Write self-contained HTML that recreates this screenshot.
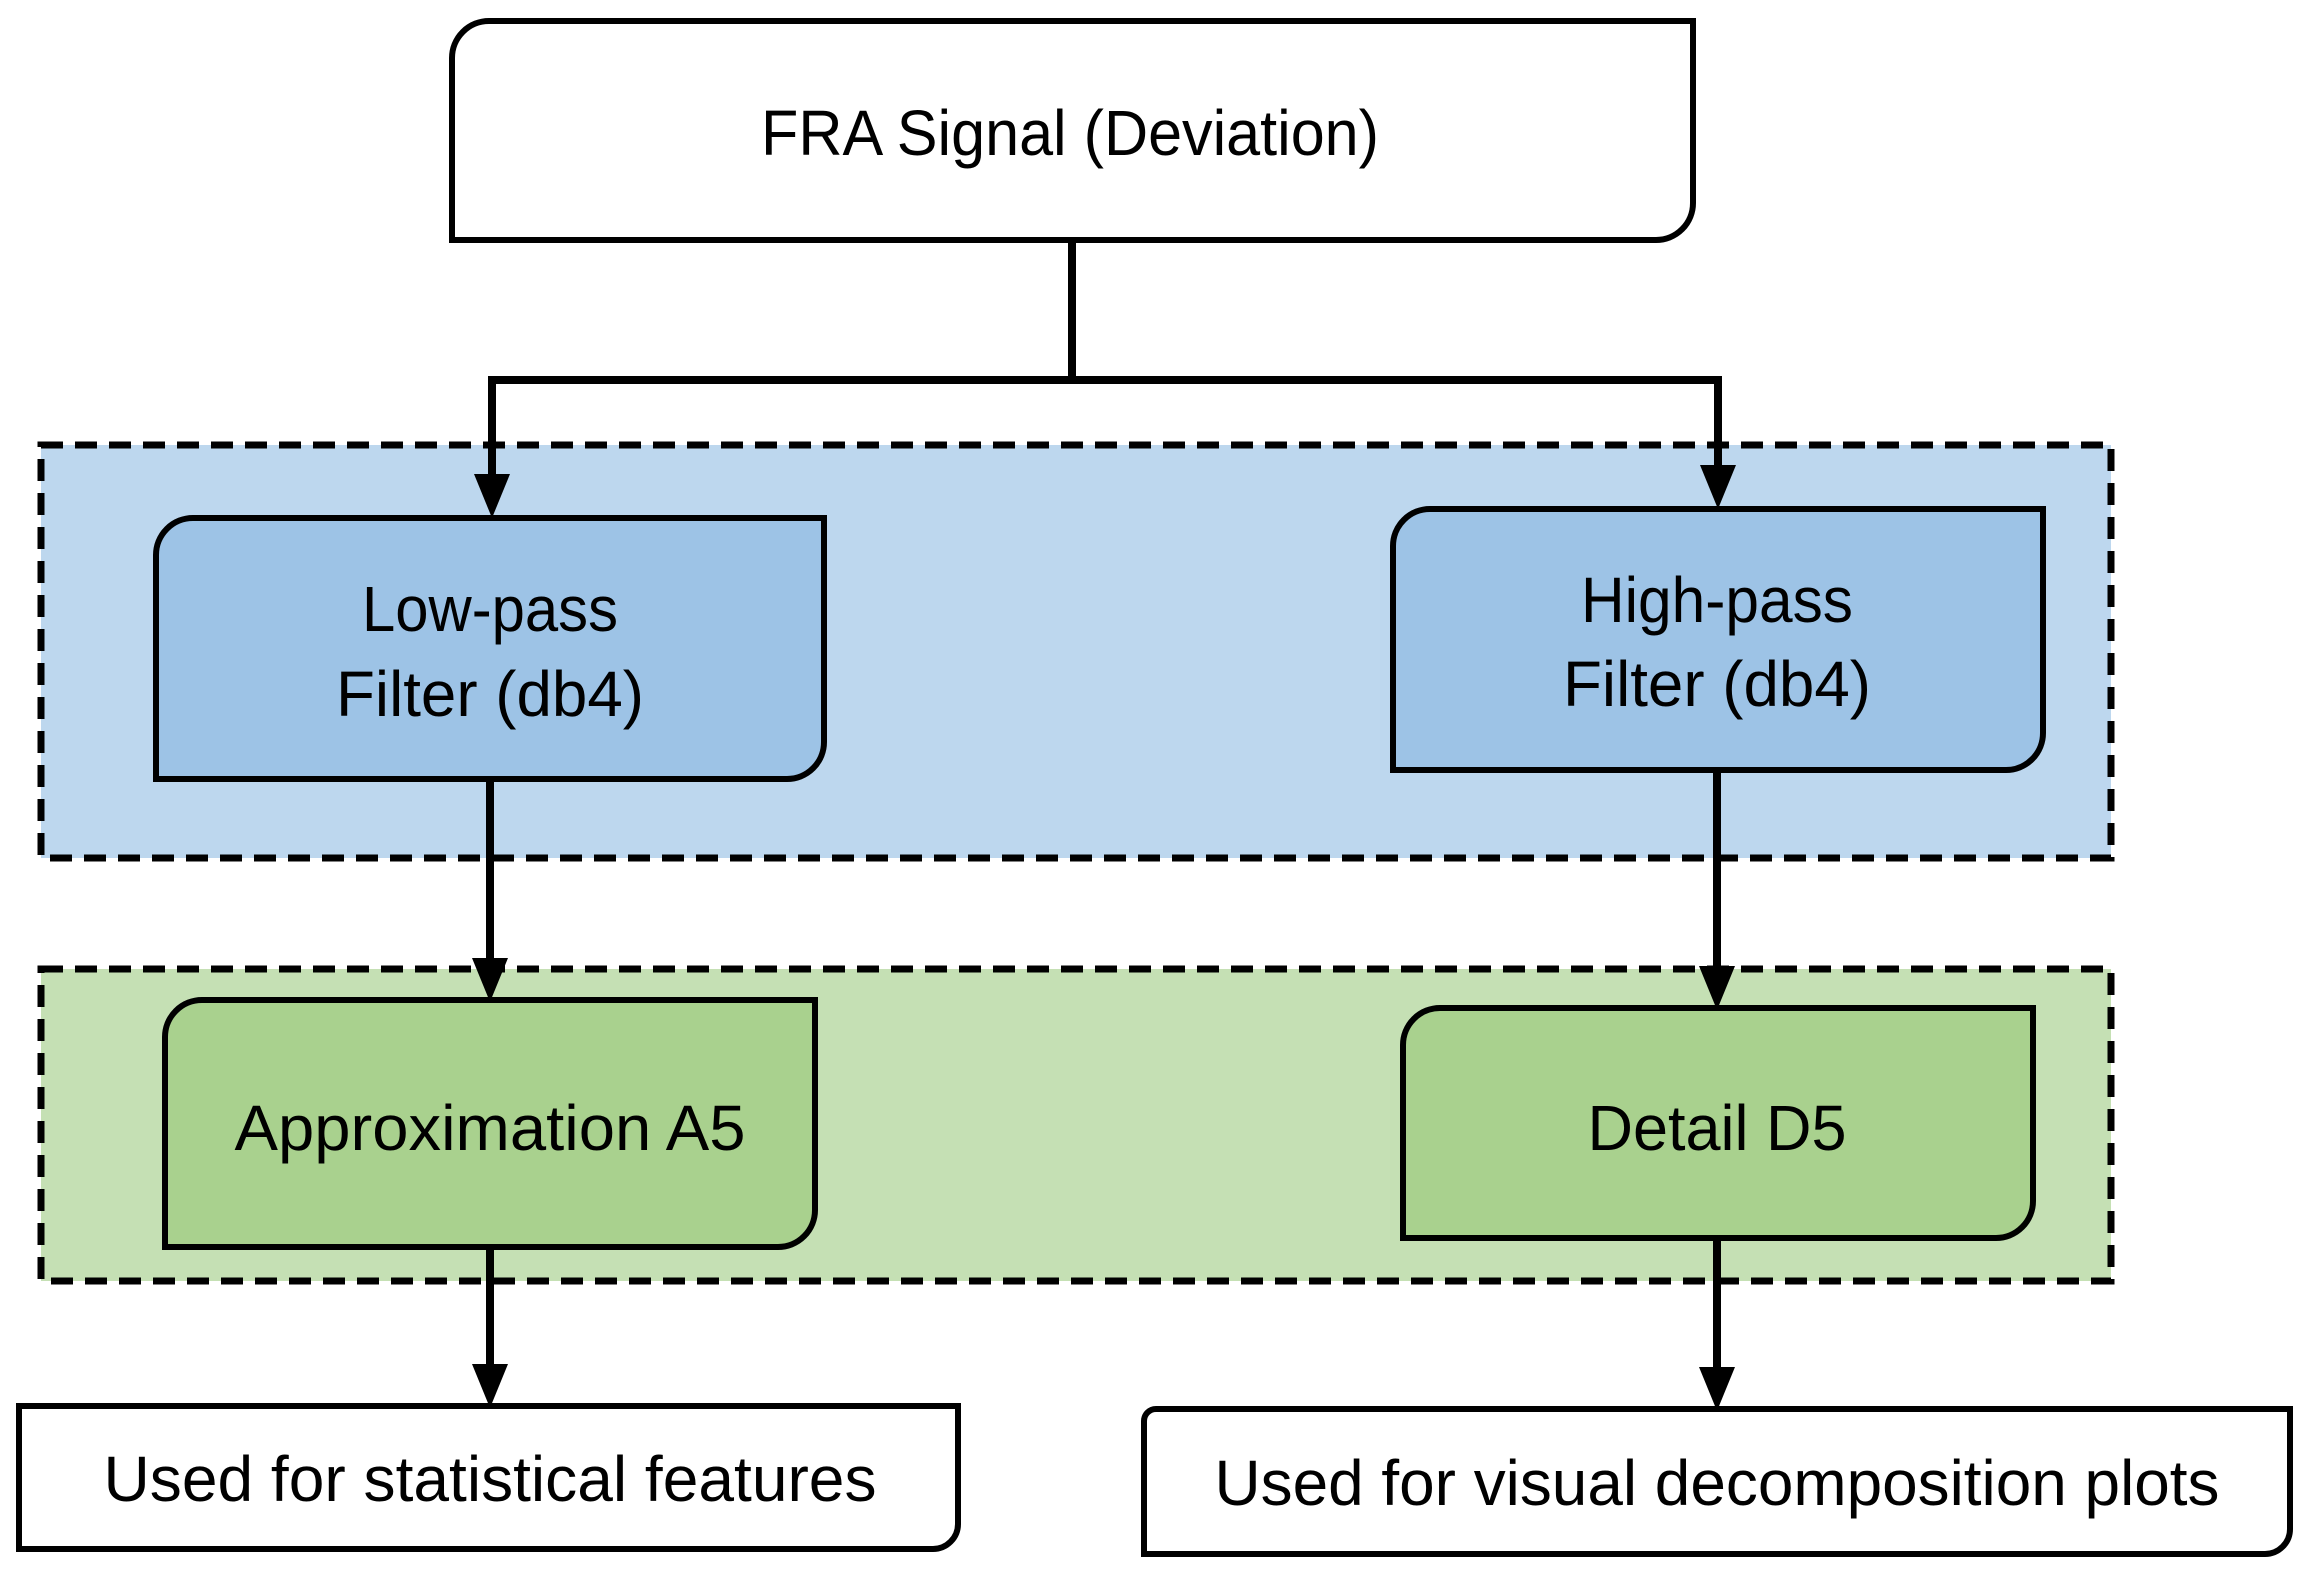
<!DOCTYPE html>
<html><head><meta charset="utf-8"><style>html,body{margin:0;padding:0;background:#fff}svg{display:block}</style></head>
<body>
<svg width="2308" height="1578" viewBox="0 0 2308 1578" xmlns="http://www.w3.org/2000/svg" font-family="Liberation Sans, sans-serif" font-size="64">
<!-- regions -->
<rect x="41" y="445" width="2070" height="413" fill="#bdd7ee" stroke="#000" stroke-width="7" stroke-dasharray="22 12"/>
<rect x="41" y="969" width="2070" height="312" fill="#c5e0b4" stroke="#000" stroke-width="7" stroke-dasharray="22 12"/>
<!-- connectors -->
<g stroke="#000" stroke-width="8" fill="none">
<polyline points="1072,240 1072,380"/>
<polyline points="492,480 492,380 1718,380 1718,471"/>
<line x1="490" y1="779" x2="490" y2="962"/>
<line x1="1717" y1="770" x2="1717" y2="970"/>
<line x1="490" y1="1247" x2="490" y2="1368"/>
<line x1="1717" y1="1238" x2="1717" y2="1370"/>
</g>
<g fill="#000">
<polygon points="474,474 510,474 492,518"/>
<polygon points="1700,465 1736,465 1718,509"/>
<polygon points="472,958 508,958 490,1002"/>
<polygon points="1699,966 1735,966 1717,1010"/>
<polygon points="472,1364 508,1364 490,1408"/>
<polygon points="1699,1367 1735,1367 1717,1411"/>
</g>
<!-- boxes -->
<g stroke="#000" stroke-width="6">
<path d="M452,58 a37,37 0 0 1 37,-37 H1693 V203 a37,37 0 0 1 -37,37 H452 Z" fill="#fff"/>
<path d="M156,555 a37,37 0 0 1 37,-37 H824 V742 a37,37 0 0 1 -37,37 H156 Z" fill="#9dc3e6"/>
<path d="M1393,546 a37,37 0 0 1 37,-37 H2043 V733 a37,37 0 0 1 -37,37 H1393 Z" fill="#9dc3e6"/>
<path d="M165,1037 a37,37 0 0 1 37,-37 H815 V1210 a37,37 0 0 1 -37,37 H165 Z" fill="#a9d18e"/>
<path d="M1403,1045 a37,37 0 0 1 37,-37 H2033 V1201 a37,37 0 0 1 -37,37 H1403 Z" fill="#a9d18e"/>
<path d="M19,1406 H958 V1524 a25,25 0 0 1 -25,25 H19 Z" fill="#fff"/>
<path d="M1144,1421 a12,12 0 0 1 12,-12 H2290 V1529 a25,25 0 0 1 -25,25 H1144 Z" fill="#fff"/>
</g>
<!-- text -->
<g fill="#000" text-anchor="middle">
<text x="1070" y="155" textLength="618" lengthAdjust="spacingAndGlyphs">FRA Signal (Deviation)</text>
<text x="490" y="631" textLength="256" lengthAdjust="spacingAndGlyphs">Low-pass</text>
<text x="490" y="716" textLength="308" lengthAdjust="spacingAndGlyphs">Filter (db4)</text>
<text x="1717" y="622" textLength="272" lengthAdjust="spacingAndGlyphs">High-pass</text>
<text x="1717" y="706" textLength="308" lengthAdjust="spacingAndGlyphs">Filter (db4)</text>
<text x="490" y="1150" textLength="511" lengthAdjust="spacingAndGlyphs">Approximation A5</text>
<text x="1717" y="1150" textLength="259" lengthAdjust="spacingAndGlyphs">Detail D5</text>
<text x="490" y="1501" textLength="773" lengthAdjust="spacingAndGlyphs">Used for statistical features</text>
<text x="1717" y="1505" textLength="1005" lengthAdjust="spacingAndGlyphs">Used for visual decomposition plots</text>
</g>
</svg>
</body></html>
